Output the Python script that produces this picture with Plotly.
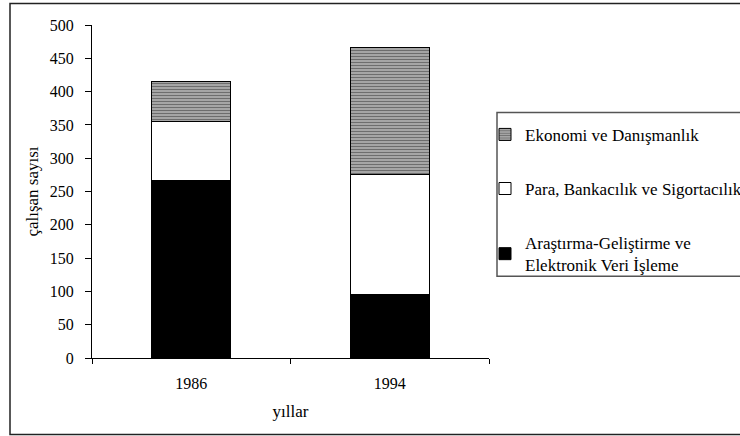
import plotly.graph_objects as go

years = ["1986", "1994"]
arge = [266, 96]        # Araştırma-Geliştirme ve Elektronik Veri İşleme
para = [89, 180]        # Para, Bankacılık ve Sigortacılık
ekonomi = [60, 190]     # Ekonomi ve Danışmanlık
yticks = [0, 50, 100, 150, 200, 250, 300, 350, 400, 450, 500]

FONT = "Liberation Serif"

fig = go.Figure()
fig.add_trace(go.Bar(
    x=years, y=arge, name="Araştırma-Geliştirme ve<br>Elektronik Veri İşleme",
    marker=dict(color="black", line=dict(color="black", width=1)),
    legendgroup="a", legendrank=3, width=0.4))
fig.add_trace(go.Bar(
    x=years, y=para, name="Para, Bankacılık ve Sigortacılık",
    marker=dict(color="white", line=dict(color="black", width=1)),
    legendgroup="b", legendrank=2, width=0.4))
fig.add_trace(go.Bar(
    x=years, y=ekonomi, name="Ekonomi ve Danışmanlık",
    marker=dict(color="#9a9a9a", line=dict(color="black", width=1),
                pattern=dict(shape="-", size=3, solidity=0.45,
                             fgcolor="#2a2a2a", bgcolor="#b0b0b0")),
    legendgroup="c", legendrank=1, width=0.4))

W, H = 740, 436
L, R, T, B = 92, 489, 25, 358.5
pw, ph = R - L, B - T

def px(x):
    return (x - L) / pw

def py(y):
    return (B - y) / ph

fig.update_layout(
    width=W, height=H,
    margin=dict(l=L, r=W - R, t=T, b=H - B, autoexpand=False),
    barmode="stack",
    plot_bgcolor="white", paper_bgcolor="white",
    font=dict(family=FONT, size=16, color="black"),
    showlegend=True,
    legend=dict(
        x=px(485), y=py(117), xanchor="left", yanchor="top",
        traceorder="grouped", tracegroupgap=29,
        borderwidth=0, bgcolor="rgba(0,0,0,0)",
        font=dict(family=FONT, size=17, color="black"),
        itemwidth=30,
    ),
    xaxis=dict(
        type="category", range=[-0.5, 1.5],
        showline=True, linecolor="black", linewidth=1,
        ticks="outside", ticklen=5, tickcolor="black", tickson="boundaries",
        ticklabelstandoff=11,
        showgrid=False, zeroline=False,
        title=dict(text="yıllar", standoff=13, font=dict(family=FONT, size=17)),
    ),
    xaxis2=dict(
        overlaying="x", anchor="y", range=[-0.5, 1.5],
        tickvals=[-0.5, 0.5, 1.5], ticks="inside", ticklen=4, tickcolor="black",
        showticklabels=False, showgrid=False, zeroline=False, showline=False,
    ),
    yaxis=dict(
        range=[0, 500], tickvals=yticks,
        showline=True, linecolor="black", linewidth=1,
        ticks="outside", ticklen=6, tickcolor="black",
        ticklabelstandoff=8,
        showgrid=False, zeroline=False,
        title=dict(text="çalışan sayısı", standoff=6, font=dict(family=FONT, size=17)),
    ),
    yaxis2=dict(
        overlaying="y", anchor="x", side="left", range=[0, 500],
        tickvals=yticks, ticks="inside", ticklen=6, tickcolor="black",
        showticklabels=False, showgrid=False, zeroline=False, showline=False,
    ),
    shapes=[
        dict(type="rect", xref="paper", yref="paper",
             x0=px(10), x1=px(760), y0=py(435), y1=py(3.5),
             line=dict(color="#222222", width=1.5), fillcolor="rgba(0,0,0,0)", layer="below"),
        dict(type="rect", xref="paper", yref="paper",
             x0=px(497), x1=px(760), y0=py(276.7), y1=py(112.7),
             line=dict(color="#555555", width=1.5), fillcolor="white", layer="below"),
    ],
)

fig.write_html("out.html", config={"displayModeBar": False},
               post_script="document.body.style.margin='0';")
